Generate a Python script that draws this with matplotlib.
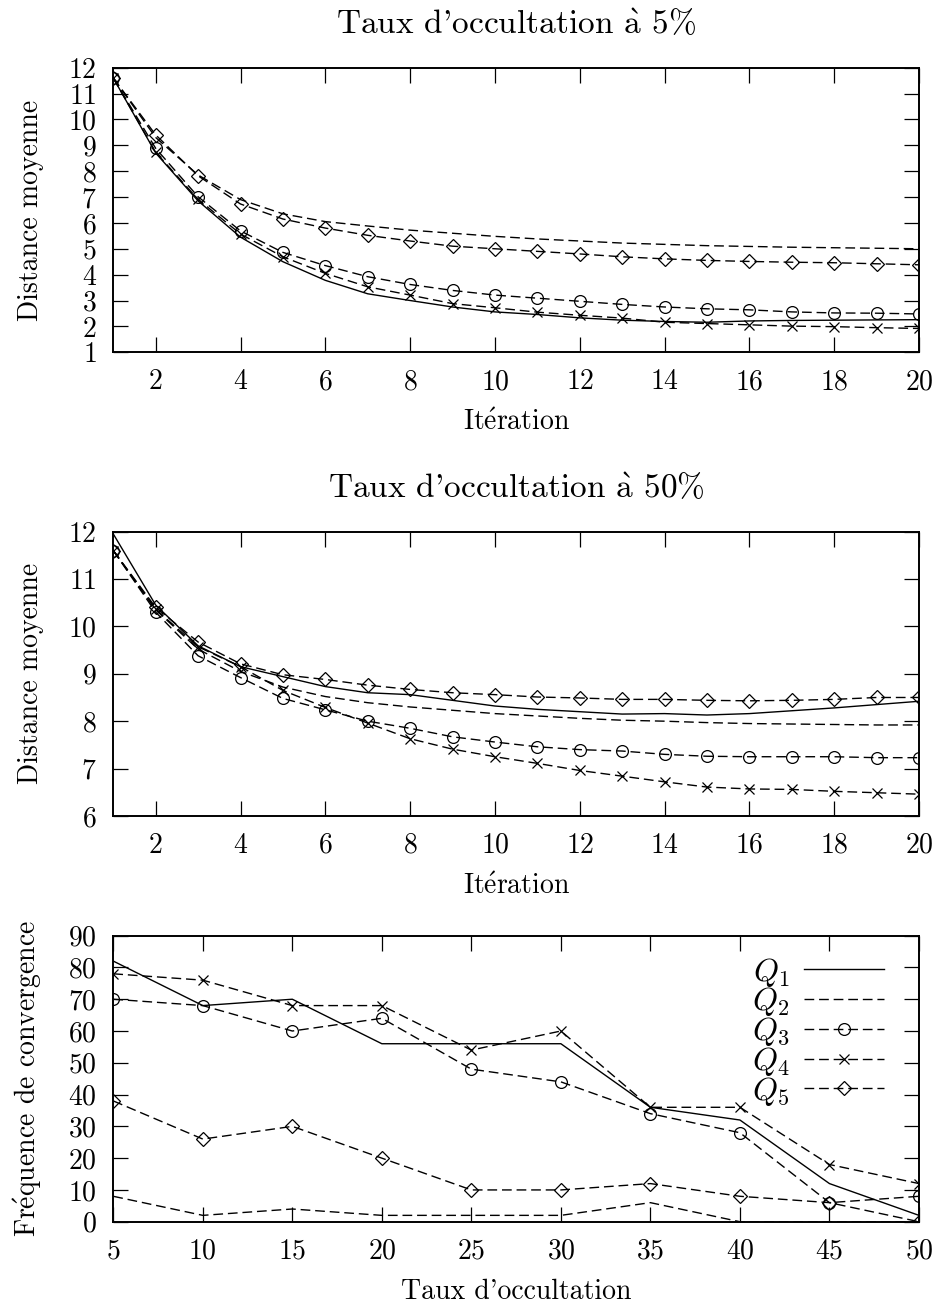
import matplotlib
matplotlib.use("Agg")
import matplotlib.pyplot as plt

plt.rcParams['font.family'] = ['cmr10', 'DejaVu Serif']
plt.rcParams['mathtext.fontset'] = 'cm'
plt.rcParams['axes.formatter.use_mathtext'] = True
plt.rcParams['font.size'] = 20

# iterations 1..20
iters = list(range(1, 21))

# taux d'occultation 5%
q1_5 = [11.6, 8.7, 6.85, 5.45, 4.5, 3.78, 3.26, 3.0, 2.75, 2.56, 2.46, 2.33, 2.24, 2.19, 2.16, 2.21, 2.23, 2.24, 2.25, 2.26]
q2_5 = [11.6, 9.3, 7.85, 6.9, 6.35, 6.05, 5.88, 5.72, 5.6, 5.48, 5.38, 5.3, 5.22, 5.17, 5.12, 5.09, 5.06, 5.04, 5.02, 5.0]
q3_5 = [11.6, 8.88, 7.01, 5.69, 4.86, 4.35, 3.92, 3.62, 3.39, 3.21, 3.09, 2.97, 2.85, 2.75, 2.68, 2.64, 2.56, 2.52, 2.51, 2.48]
q4_5 = [11.6, 8.73, 6.91, 5.57, 4.69, 4.05, 3.53, 3.21, 2.88, 2.72, 2.55, 2.43, 2.32, 2.16, 2.11, 2.06, 2.01, 1.99, 1.95, 1.92]
q5_5 = [11.6, 9.4, 7.82, 6.73, 6.15, 5.8, 5.52, 5.3, 5.1, 5.0, 4.9, 4.8, 4.69, 4.61, 4.55, 4.51, 4.48, 4.46, 4.42, 4.38]

# taux d'occultation 50%
q1_50 = [11.95, 10.45, 9.59, 9.15, 8.94, 8.73, 8.6, 8.56, 8.44, 8.32, 8.25, 8.2, 8.15, 8.16, 8.13, 8.16, 8.22, 8.28, 8.35, 8.42]
q2_50 = [11.6, 10.35, 9.52, 9.05, 8.72, 8.52, 8.39, 8.3, 8.23, 8.16, 8.11, 8.06, 8.02, 8.0, 7.97, 7.95, 7.94, 7.93, 7.92, 7.92]
q3_50 = [11.6, 10.3, 9.38, 8.92, 8.48, 8.24, 8.0, 7.85, 7.67, 7.56, 7.46, 7.4, 7.37, 7.3, 7.26, 7.25, 7.25, 7.25, 7.23, 7.23]
q4_50 = [11.6, 10.36, 9.57, 9.15, 8.65, 8.29, 7.96, 7.63, 7.41, 7.25, 7.11, 6.96, 6.84, 6.72, 6.61, 6.57, 6.56, 6.52, 6.49, 6.46]
q5_50 = [11.6, 10.4, 9.67, 9.21, 8.98, 8.88, 8.76, 8.67, 8.6, 8.56, 8.51, 8.49, 8.46, 8.46, 8.44, 8.43, 8.44, 8.46, 8.5, 8.5]

# frequence de convergence
taux = [5, 10, 15, 20, 25, 30, 35, 40, 45, 50]
f1 = [82, 68, 70, 56, 56, 56, 36, 32, 12, 2]
f2 = [8, 2, 4, 2, 2, 2, 6, 0, 0, 0]
f3 = [70, 68, 60, 64, 48, 44, 34, 28, 6, 8]
f4 = [78, 76, 68, 68, 54, 60, 36, 36, 18, 12]
f5 = [38, 26, 30, 20, 10, 10, 12, 8, 6, 0]

labels = [r'$Q_1$', r'$Q_2$', r'$Q_3$', r'$Q_4$', r'$Q_5$']
dash = (7, 3.5)


def draw(ax, x, series):
    ax.plot(x, series[0], color='black', lw=1.0, label=labels[0])
    ax.plot(x, series[1], color='black', lw=1.0, dashes=dash, label=labels[1])
    ax.plot(x, series[2], color='black', lw=1.0, dashes=dash, marker='o', ms=8.5,
            mfc='none', mew=0.9, label=labels[2])
    ax.plot(x, series[3], color='black', lw=1.0, dashes=dash, marker='x', ms=7,
            mew=0.9, label=labels[3])
    ax.plot(x, series[4], color='black', lw=1.0, dashes=dash, marker='D', ms=7,
            mfc='none', mew=0.9, label=labels[4])


def style(ax):
    ax.tick_params(direction='in', length=11, width=0.9, top=True, right=True, pad=12)
    ax.tick_params(axis='x', pad=12)
    for s in ax.spines.values():
        s.set_linewidth(1.4)


fig = plt.figure(figsize=(9.34, 13.11), dpi=100)

ax1 = fig.add_axes([0.1213, 0.7313, 0.8626, 0.2171])
draw(ax1, iters, [q1_5, q2_5, q3_5, q4_5, q5_5])
ax1.set_xlim(1, 20)
ax1.set_ylim(1, 12)
ax1.set_xticks(range(2, 21, 2))
ax1.set_yticks(range(1, 13))
style(ax1)
ax1.set_title(r"Taux d'occultation $\mathrm{\grave{a}}$ 5%", pad=24)
ax1.set_xlabel(r"It$\mathrm{\acute{e}}$ration", labelpad=10)
ax1.set_ylabel("Distance moyenne", labelpad=17)

ax2 = fig.add_axes([0.1213, 0.3776, 0.8626, 0.2169])
draw(ax2, iters, [q1_50, q2_50, q3_50, q4_50, q5_50])
ax2.set_xlim(1, 20)
ax2.set_ylim(6, 12)
ax2.set_xticks(range(2, 21, 2))
ax2.set_yticks(range(6, 13))
style(ax2)
ax2.set_title(r"Taux d'occultation $\mathrm{\grave{a}}$ 50%", pad=24)
ax2.set_xlabel(r"It$\mathrm{\acute{e}}$ration", labelpad=10)
ax2.set_ylabel("Distance moyenne", labelpad=17)

ax3 = fig.add_axes([0.1213, 0.0681, 0.8626, 0.2182])
draw(ax3, taux, [f1, f2, f3, f4, f5])
ax3.set_xlim(5, 50)
ax3.set_ylim(0, 90)
ax3.set_xticks(taux)
ax3.set_yticks(range(0, 91, 10))
style(ax3)
ax3.set_xlabel("Taux d'occultation", labelpad=10)
ax3.set_ylabel(r"Fr$\mathrm{\acute{e}}$quence de convergence", labelpad=17)
ax3.legend(loc='upper right', bbox_to_anchor=(0.972, 0.975), frameon=False,
           markerfirst=False, handlelength=2.5, labelspacing=-0.1,
           handletextpad=0.45, borderaxespad=0, fontsize=23)

fig.savefig('out.png', dpi=100)
